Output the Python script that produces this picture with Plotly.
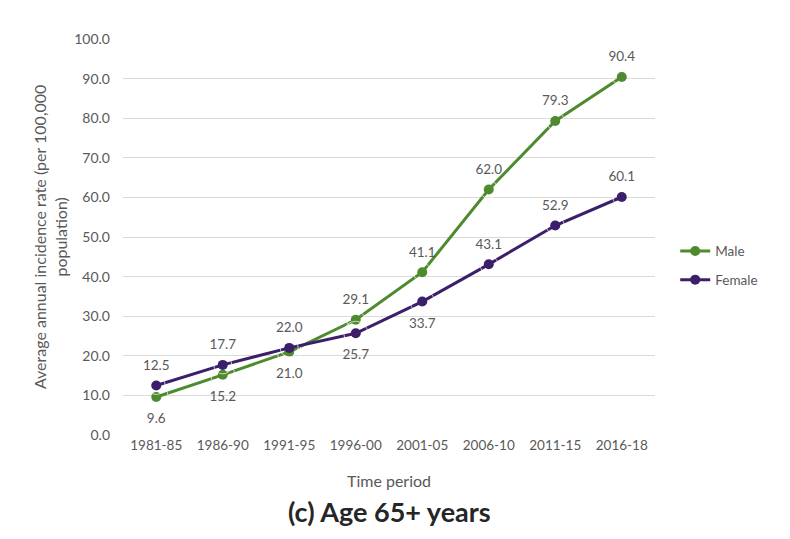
import plotly.graph_objects as go

periods = ["1981-85", "1986-90", "1991-95", "1996-00", "2001-05", "2006-10", "2011-15", "2016-18"]
male = [9.6, 15.2, 21.0, 29.1, 41.1, 62.0, 79.3, 90.4]
female = [12.5, 17.7, 22.0, 25.7, 33.7, 43.1, 52.9, 60.1]
male_pos = ["bottom center", "bottom center", "bottom center", "top center", "top center", "top center", "top center", "top center"]
female_pos = ["top center", "top center", "top center", "bottom center", "bottom center", "top center", "top center", "top center"]
y_ticks = [0, 10, 20, 30, 40, 50, 60, 70, 80, 90, 100]

FONT = "Lato, Carlito, Liberation Sans, sans-serif"
GREEN = "#4E8A2E"
PURPLE = "#3B1F6A"
TXT = "#595959"

fig = go.Figure()
for name, vals, pos, color, grp in [("Male", male, male_pos, GREEN, "m"),
                                    ("Female", female, female_pos, PURPLE, "f")]:
    fig.add_trace(go.Scatter(
        x=periods, y=vals, name=name, mode="lines+markers", legendgroup=grp,
        line=dict(color=color, width=3), marker=dict(size=10, color=color),
        cliponaxis=False,
    ))
    # label layer: invisible markers used only to space the labels from the points
    fig.add_trace(go.Scatter(
        x=periods, y=vals, mode="markers+text", showlegend=False, hoverinfo="skip",
        legendgroup=grp,
        marker=dict(size=[24 if p.startswith("bottom") else 18 for p in pos],
                    color="rgba(0,0,0,0)"),
        text=[f"{v:.1f}" for v in vals], textposition=pos,
        textfont=dict(size=13.5, color=TXT, family=FONT), cliponaxis=False,
    ))

fig.update_layout(
    width=790, height=539,
    margin=dict(l=115, r=143, t=31, b=112),
    paper_bgcolor="white", plot_bgcolor="white",
    font=dict(family=FONT, color=TXT, size=13),
    showlegend=True,
    legend=dict(x=1.038, y=0.503, xanchor="left", yanchor="top",
                font=dict(size=13.5, color=TXT, family=FONT),
                bgcolor="rgba(0,0,0,0)", tracegroupgap=8),
    xaxis=dict(type="category", range=[-0.5, 7.5], showgrid=False, zeroline=False,
               showline=False, ticks="", tickfont=dict(size=13.5, color=TXT)),
    yaxis=dict(range=[0, 100], tickvals=y_ticks, ticktext=[f"{v:.1f}" for v in y_ticks],
               showgrid=True, gridcolor="#D9D9D9", gridwidth=1.3, zeroline=False,
               showline=False, ticks="", tickfont=dict(size=14, color=TXT),
               ticklabelstandoff=12),
    annotations=[
        dict(text="Average annual incidence rate (per 100,000<br>population)",
             x=-0.137, y=0.5, xref="paper", yref="paper", textangle=-90,
             xanchor="center", yanchor="middle",
             showarrow=False, font=dict(size=16, color=TXT, family=FONT)),
        dict(text="Time period", x=0.5, y=-0.116, xref="paper", yref="paper",
             xanchor="center", yanchor="middle",
             showarrow=False, font=dict(size=16, color=TXT, family=FONT)),
        dict(text="<b>(c) Age 65+ years</b>", x=0.5, y=-0.192, xref="paper", yref="paper",
             xanchor="center", yanchor="middle",
             showarrow=False, font=dict(size=27, color="#262626", family=FONT)),
    ],
)

fig.write_html("out.html")
